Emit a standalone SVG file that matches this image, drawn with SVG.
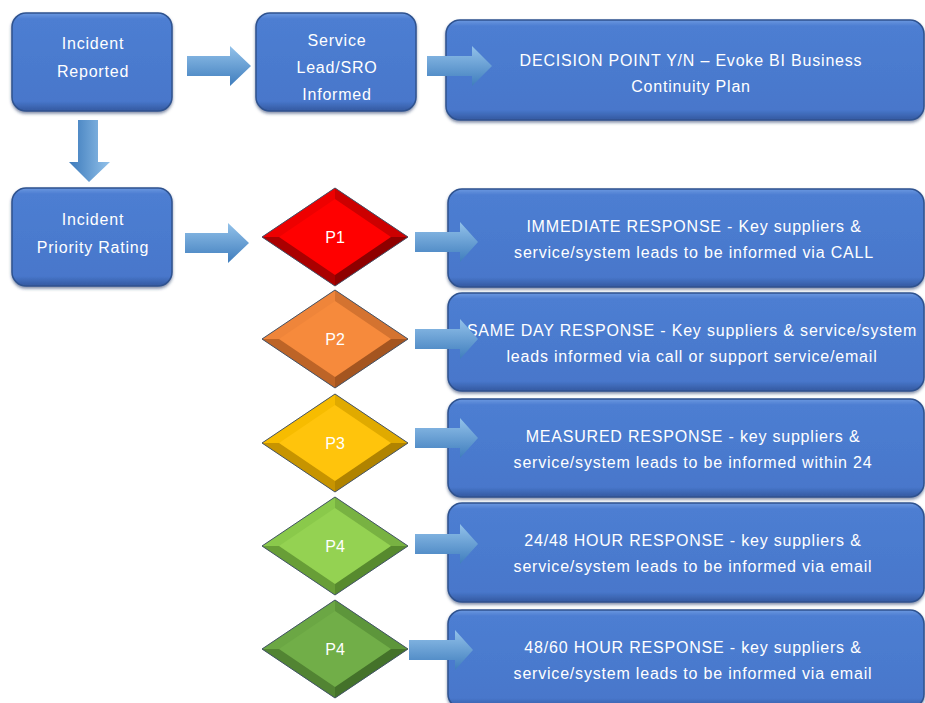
<svg xmlns="http://www.w3.org/2000/svg" width="925" height="703" viewBox="0 0 925 703">
<defs>
<linearGradient id="boxg" x1="0" y1="0" x2="0" y2="1">
<stop offset="0" stop-color="#6b98e0"/>
<stop offset="0.06" stop-color="#4d7ed2"/>
<stop offset="0.9" stop-color="#4877cb"/>
<stop offset="1" stop-color="#3459a0"/>
</linearGradient>
<linearGradient id="arrH" x1="0" y1="0" x2="0" y2="1">
<stop offset="0" stop-color="#93c2ea"/>
<stop offset="1" stop-color="#3f7dbd"/>
</linearGradient>
<linearGradient id="arrV" x1="0" y1="0" x2="1" y2="0">
<stop offset="0" stop-color="#3c7abb"/>
<stop offset="1" stop-color="#93c2ea"/>
</linearGradient>
<filter id="sh" x="-5%" y="-10%" width="110%" height="130%">
<feDropShadow dx="0" dy="2" stdDeviation="1.5" flood-color="#1c3563" flood-opacity="0.55"/>
</filter>
</defs>
<style>
.box{fill:url(#boxg);stroke:#2f528f;stroke-width:1.5;filter:url(#sh)}
.t{font-family:"Liberation Sans",Arial,sans-serif;font-size:16px;fill:#ffffff;text-anchor:middle;letter-spacing:0.8px;white-space:pre}
.d{font-family:"Liberation Sans",Arial,sans-serif;font-size:16px;fill:#ffffff;text-anchor:middle}
.ah{fill:url(#arrH)}
.av{fill:url(#arrV)}
.edge{fill:none;stroke:#44546a;stroke-width:1}
</style>
<rect width="925" height="703" fill="#ffffff"/>

<g id="incident-reported">
<rect class="box" x="12" y="13" width="160" height="98" rx="14"/>
<text class="t" x="93" y="49">Incident</text>
<text class="t" x="93" y="77">Reported</text>
</g>

<g id="service-lead">
<rect class="box" x="256" y="13" width="160" height="98" rx="14"/>
<text class="t" x="337" y="46">Service</text>
<text class="t" x="337" y="73">Lead/SRO</text>
<text class="t" x="337" y="100">Informed</text>
</g>

<g id="decision-point">
<rect class="box" x="446" y="20" width="478" height="100" rx="14"/>
<text class="t" x="691" y="66">DECISION POINT Y/N – Evoke BI Business</text>
<text class="t" x="691" y="92">Continuity Plan</text>
</g>

<g id="priority-rating">
<rect class="box" x="12" y="188" width="160" height="98" rx="14"/>
<text class="t" x="93" y="225">Incident</text>
<text class="t" x="93" y="253">Priority Rating</text>
</g>

<g id="p1">
<polygon fill="#ff0000" points="262,237 335,188 408,237 335,286"/>
<polygon fill="#ee0000" points="262,237 335,188 335,199 279,237"/>
<polygon fill="#cc0000" points="335,188 408,237 391,237 335,199"/>
<polygon fill="#8e0000" points="408,237 335,286 335,275 391,237"/>
<polygon fill="#aa0000" points="335,286 262,237 279,237 335,275"/>
<polygon class="edge" points="262,237 335,188 408,237 335,286"/>
<text class="d" x="335" y="243">P1</text>
</g>

<g id="p2">
<polygon fill="#f68a3c" points="262,339 335,290 408,339 335,388"/>
<polygon fill="#ef853a" points="262,339 335,290 335,301 279,339"/>
<polygon fill="#d47330" points="335,290 408,339 391,339 335,301"/>
<polygon fill="#a45520" points="408,339 335,388 335,377 391,339"/>
<polygon fill="#bd6427" points="335,388 262,339 279,339 335,377"/>
<polygon class="edge" points="262,339 335,290 408,339 335,388"/>
<text class="d" x="335" y="345">P2</text>
</g>

<g id="p3">
<polygon fill="#ffc40c" points="262,443 335,394 408,443 335,492"/>
<polygon fill="#f7bc00" points="262,443 335,394 335,405 279,443"/>
<polygon fill="#e0aa00" points="335,394 408,443 391,443 335,405"/>
<polygon fill="#b08300" points="408,443 335,492 335,481 391,443"/>
<polygon fill="#c79400" points="335,492 262,443 279,443 335,481"/>
<polygon class="edge" points="262,443 335,394 408,443 335,492"/>
<text class="d" x="335" y="449">P3</text>
</g>

<g id="p4a">
<polygon fill="#94d252" points="262,546 335,497 408,546 335,595"/>
<polygon fill="#8ac94b" points="262,546 335,497 335,508 279,546"/>
<polygon fill="#78b242" points="335,497 408,546 391,546 335,508"/>
<polygon fill="#578a2e" points="408,546 335,595 335,584 391,546"/>
<polygon fill="#689e37" points="335,595 262,546 279,546 335,584"/>
<polygon class="edge" points="262,546 335,497 408,546 335,595"/>
<text class="d" x="335" y="552">P4</text>
</g>

<g id="p4b">
<polygon fill="#71ae48" points="262,649 335,600 408,649 335,698"/>
<polygon fill="#6ba744" points="262,649 335,600 335,611 279,649"/>
<polygon fill="#5d963b" points="335,600 408,649 391,649 335,611"/>
<polygon fill="#44722a" points="408,649 335,698 335,687 391,649"/>
<polygon fill="#528433" points="335,698 262,649 279,649 335,687"/>
<polygon class="edge" points="262,649 335,600 408,649 335,698"/>
<text class="d" x="335" y="655">P4</text>
</g>

<g id="resp-immediate">
<rect class="box" x="448" y="189" width="476" height="98" rx="14"/>
<text class="t" x="694" y="232">IMMEDIATE RESPONSE - Key suppliers &amp;</text>
<text class="t" x="694" y="258">service/system leads to be informed via CALL</text>
</g>

<g id="resp-same-day">
<rect class="box" x="448" y="293" width="476" height="98" rx="14"/>
<text class="t" x="692" y="336">SAME DAY RESPONSE - Key suppliers &amp; service/system</text>
<text class="t" x="692" y="362">leads informed via call or support service/email</text>
</g>

<g id="resp-measured">
<rect class="box" x="448" y="399" width="476" height="98" rx="14"/>
<text class="t" x="693" y="442">MEASURED RESPONSE - key suppliers &amp;</text>
<text class="t" x="693" y="468">service/system leads to be informed within 24</text>
</g>

<g id="resp-24-48">
<rect class="box" x="448" y="503" width="476" height="99" rx="14"/>
<text class="t" x="693" y="546">24/48 HOUR RESPONSE - key suppliers &amp;</text>
<text class="t" x="693" y="572">service/system leads to be informed via email</text>
</g>

<g id="resp-48-60">
<rect class="box" x="448" y="610" width="476" height="98" rx="14"/>
<text class="t" x="693" y="653">48/60 HOUR RESPONSE - key suppliers &amp;</text>
<text class="t" x="693" y="679">service/system leads to be informed via email</text>
</g>

<g id="connectors">
<polygon class="ah" points="187,56 230,56 230,46 251,66 230,86 230,76 187,76"/>
<polygon class="ah" points="427,56 472,56 472,46 492,66 472,86 472,76 427,76"/>
<polygon class="av" points="78,120 98,120 98,162 110,162 89,182 69,162 78,162"/>
<polygon class="ah" points="185,233 228,233 228,223 249,243 228,263 228,253 185,253"/>
<polygon class="ah" points="415,232 460,232 460,222 478,242 460,262 460,252 415,252"/>
<polygon class="ah" points="415,329 460,329 460,319 478,339 460,359 460,349 415,349"/>
<polygon class="ah" points="415,428 460,428 460,418 478,438 460,458 460,448 415,448"/>
<polygon class="ah" points="415,534 460,534 460,524 478,544 460,564 460,554 415,554"/>
<polygon class="ah" points="409,640 455,640 455,630 473,650 455,670 455,660 409,660"/>
</g>
</svg>
